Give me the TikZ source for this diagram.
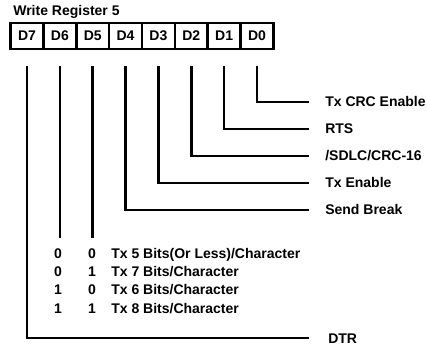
\documentclass[tikz,border=0pt]{standalone}
\usepackage{fontspec}
\setmainfont{Liberation Sans}
\begin{document}
\begin{tikzpicture}[x=1pt,y=-1pt,line width=2.6pt,
  txt/.style={font=\fontsize{14}{16}\selectfont\bfseries,inner sep=0pt,text height=10pt,text depth=0pt},
  lbl/.style={txt,anchor=west},
  bitbox/.style={txt,draw,line width=2.6pt,minimum width=32.86pt,minimum height=26pt}]
\useasboundingbox (0,0) rectangle (428,352);
\node[lbl] (title) at (12,11) {Write Register 5};
\foreach \n in {7,...,0}{
  \node[bitbox] (b\n) at ({27+32.86*(7-\n)},36) {D\n};
}
\coordinate (e) at (309,0);
\node[lbl] (l0) at (324,102) {Tx CRC Enable};
\node[lbl] (l1) at (324,129) {RTS};
\node[lbl] (l2) at (324,156) {/SDLC/CRC-16};
\node[lbl] (l3) at (324,183) {Tx Enable};
\node[lbl] (l4) at (324,210) {Send Break};
\node[lbl] (l7) at (327,338) {DTR};
\foreach \n in {0,1,2,3,4,7}{
  \draw ([yshift=-16pt]b\n.south) |- (l\n.west -| e);
}
% D6/D5 table
\node[txt] (t1a) at (58,254) {0}; \node[txt] (t1b) at (92,254) {0};
\node[lbl] (t1) at (110,254) {Tx 5 Bits(Or Less)/Character};
\node[txt] (t2a) at (58,272) {0}; \node[txt] (t2b) at (92,272) {1};
\node[lbl] (t2) at (110,272) {Tx 7 Bits/Character};
\node[txt] (t3a) at (58,290) {1}; \node[txt] (t3b) at (92,290) {0};
\node[lbl] (t3) at (110,290) {Tx 6 Bits/Character};
\node[txt] (t4a) at (58,308) {1}; \node[txt] (t4b) at (92,308) {1};
\node[lbl] (t4) at (110,308) {Tx 8 Bits/Character};
\coordinate (tabtop) at (0,238);
\draw ([yshift=-16pt]b6.south) -- (b6.south |- tabtop);
\draw ([yshift=-16pt]b5.south) -- (b5.south |- tabtop);
\end{tikzpicture}
\end{document}
